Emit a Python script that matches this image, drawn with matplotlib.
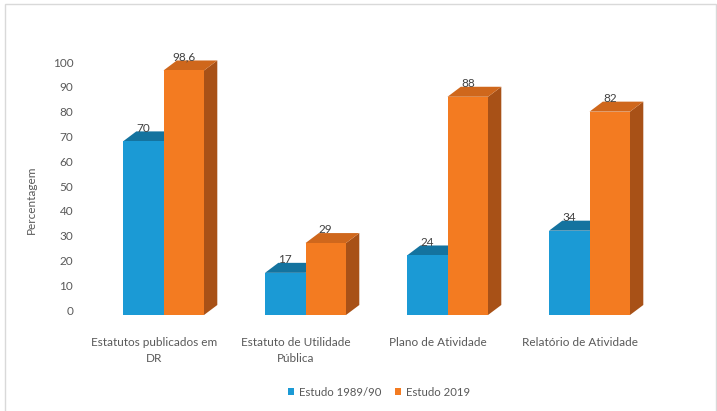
import matplotlib
matplotlib.use("Agg")
import matplotlib.pyplot as plt
from matplotlib.patches import Polygon, Rectangle, Patch

categories = ["Estatutos publicados em\nDR", "Estatuto de Utilidade\nPública",
              "Plano de Atividade", "Relatório de Atividade"]
series_names = ["Estudo 1989/90", "Estudo 2019"]
estudo_1989 = [70, 17, 24, 34]
estudo_2019 = [98.6, 29, 88, 82]
label_1989 = ["70", "17", "24", "34"]
label_2019 = ["98,6", "29", "88", "82"]
yticks = list(range(0, 101, 10))

W, H = 717, 411
DPI = 100
plt.rcParams['font.family'] = ['Lato', 'DejaVu Sans']
fig = plt.figure(figsize=(W / DPI, H / DPI), dpi=DPI)
fig.patch.set_facecolor('white')

# axes geometry in pixels
px_left, px_right = 83, 651
px_y0, px_y100 = 310, 62
px_bottom, px_top = 322, 48
ppu = (px_y0 - px_y100) / 100.0
ax = fig.add_axes([px_left / W, 1 - px_bottom / H, (px_right - px_left) / W, (px_bottom - px_top) / H])
ax.set_xlim(-0.5, 3.5)
ax.set_ylim(-(px_bottom - px_y0) / ppu, 100 + (px_y100 - px_top) / ppu)
for s in ax.spines.values():
    s.set_visible(False)

xppu = (px_right - px_left) / 4.0
w = 40.5 / xppu
dx = 13.3 / xppu
dy = 10.0 / ppu
off = 9.5 / xppu  # front boundary offset from tick

colors = [
    dict(front='#1B9AD5', top='#14739F', side='#13709B'),
    dict(front='#F37B21', top='#CF671C', side='#A85117'),
]
textc = '#595959'

def bar3d(xf, v, c):
    x0, x1 = xf, xf + w
    yb, yt = -dy / 2, v - dy / 2
    ax.add_patch(Polygon([(x1, yb), (x1 + dx, yb + dy), (x1 + dx, yt + dy), (x1, yt)],
                         closed=True, facecolor=c['side'], edgecolor='none', clip_on=False))
    ax.add_patch(Polygon([(x0, yt), (x1, yt), (x1 + dx, yt + dy), (x0 + dx, yt + dy)],
                         closed=True, facecolor=c['top'], edgecolor='none', clip_on=False))
    ax.add_patch(Rectangle((x0, yb), w, yt - yb, facecolor=c['front'], edgecolor='none', clip_on=False))

for i in range(len(categories)):
    xb = i + off
    for j, (vals, labs) in enumerate([(estudo_1989, label_1989), (estudo_2019, label_2019)]):
        xf = xb - w if j == 0 else xb
        bar3d(xf, vals[i], colors[j])
        ax.text(xf + w / 2, vals[i] + 3.3, labs[i], ha='center', va='center',
                fontsize=8.5, color='#404040', zorder=5)

ax.set_yticks(yticks)
ax.set_yticklabels([str(t) for t in yticks], fontsize=8.5, color=textc)
ax.set_xticks(range(len(categories)))
ax.set_xticklabels(categories, fontsize=8.5, color=textc, linespacing=1.5)
ax.tick_params(axis='both', length=0)
ax.tick_params(axis='y', pad=7)
ax.tick_params(axis='x', pad=11)

fig.text(31 / W, 1 - 200 / H, 'Percentagem', rotation=90, ha='center', va='center',
         fontsize=8.5, color=textc)

handles = [Patch(facecolor=colors[0]['front']), Patch(facecolor=colors[1]['front'])]
fig.legend(handles, series_names, loc='center', bbox_to_anchor=(379 / W, 1 - 392 / H),
           ncol=2, frameon=False, fontsize=8.2, labelcolor=textc,
           handlelength=0.55, handleheight=0.55, handletextpad=0.4, columnspacing=1.2)

# chart border
fig.patches.append(Rectangle((5 / W, -0.05), (716 - 5) / W, 1.05 - 4 / H,
                             transform=fig.transFigure, facecolor='none',
                             edgecolor='#D9D9D9', lw=1))

fig.savefig('out.png', dpi=DPI, facecolor='white')
